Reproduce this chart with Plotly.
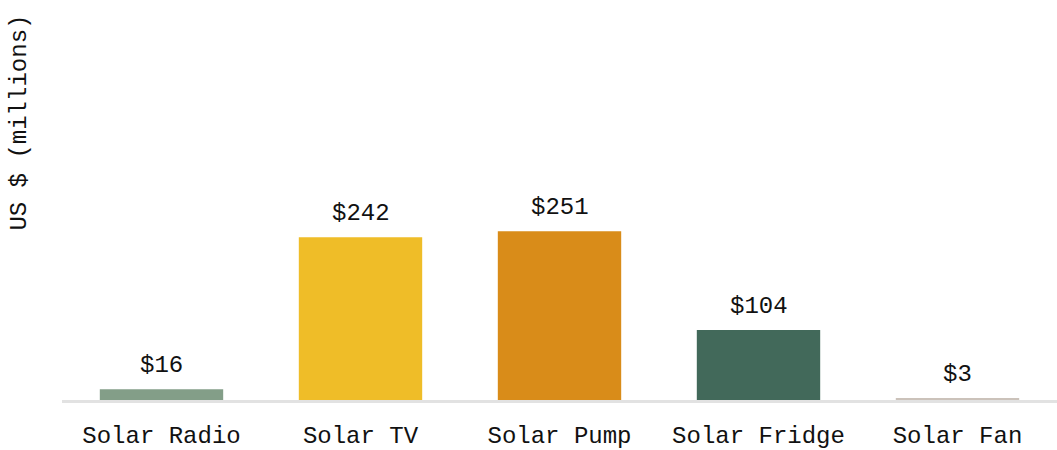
import plotly.graph_objects as go

# Product categories and their market value (US$ millions)
products = ["Solar Radio", "Solar TV", "Solar Pump", "Solar Fridge", "Solar Fan"]
values = [16, 242, 251, 104, 3]
bar_colors = ["#839e88", "#efbd28", "#d98c19", "#42695a", "#cbc2ba"]
value_labels = [f"${v}" for v in values]

FONT = "Liberation Mono"
FONT_SIZE = 24
TEXT_COLOR = "#111111"

fig = go.Figure(
    go.Bar(
        x=products,
        y=values,
        marker=dict(color=bar_colors, line=dict(width=0)),
        hoverinfo="skip",
    )
)

# Value labels above each bar
for p, v, lbl in zip(products, values, value_labels):
    fig.add_annotation(
        x=p, y=v, text=lbl, showarrow=False,
        yanchor="bottom", yshift=8,
        font=dict(family=FONT, size=FONT_SIZE, color=TEXT_COLOR),
    )

# Rotated y-axis title
fig.add_annotation(
    xref="paper", yref="paper", x=0, y=0.73, xshift=-42,
    text="US $ (millions)", textangle=-90, showarrow=False,
    xanchor="center", yanchor="middle",
    font=dict(family=FONT, size=FONT_SIZE, color=TEXT_COLOR),
)

fig.update_layout(
    width=1057, height=450,
    margin=dict(l=62, r=0, t=20, b=50),
    paper_bgcolor="white", plot_bgcolor="white",
    bargap=0.38,
    showlegend=False,
    font=dict(family=FONT, size=FONT_SIZE, color=TEXT_COLOR),
)
fig.update_xaxes(
    showline=True, linecolor="#e2e2e2", linewidth=3,
    showgrid=False, ticks="", ticklabelstandoff=11,
    automargin=False,
    tickfont=dict(family=FONT, size=FONT_SIZE, color=TEXT_COLOR),
    layer="below traces",
)
fig.update_yaxes(
    range=[0, 565], visible=False, showgrid=False, zeroline=False,
    automargin=False,
)

fig.write_html("out.html")
